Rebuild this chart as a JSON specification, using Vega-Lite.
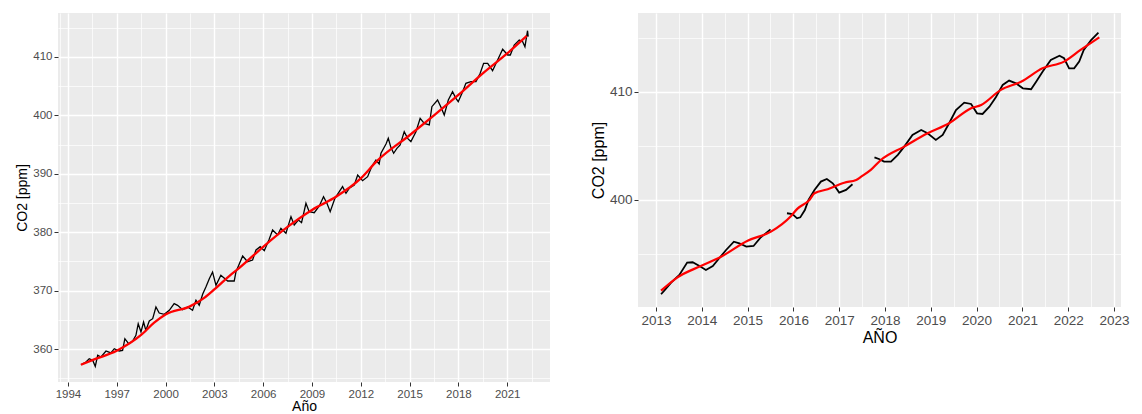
{
  "$schema": "https://vega.github.io/schema/vega-lite/v6.json",
  "padding": {"left": 15, "top": 13, "right": 0, "bottom": 0},
  "background": "#FFFFFF",
  "datasets": {
    "left_obs": [
      {"year": 1994.80, "co2": 357.31}, {"year": 1995.11, "co2": 357.77}, {"year": 1995.31, "co2": 358.34},
      {"year": 1995.52, "co2": 358.06}, {"year": 1995.68, "co2": 357.03}, {"year": 1995.83, "co2": 358.92},
      {"year": 1996.03, "co2": 358.63}, {"year": 1996.34, "co2": 359.66}, {"year": 1996.64, "co2": 359.32},
      {"year": 1996.85, "co2": 360.05}, {"year": 1997.15, "co2": 359.66}, {"year": 1997.36, "co2": 359.77},
      {"year": 1997.50, "co2": 361.76}, {"year": 1997.73, "co2": 360.91}, {"year": 1997.98, "co2": 361.37},
      {"year": 1998.18, "co2": 362.34}, {"year": 1998.32, "co2": 364.33}, {"year": 1998.49, "co2": 362.91},
      {"year": 1998.65, "co2": 364.62}, {"year": 1998.79, "co2": 363.19}, {"year": 1999.00, "co2": 364.79},
      {"year": 1999.21, "co2": 365.19}, {"year": 1999.41, "co2": 367.19}, {"year": 1999.61, "co2": 366.16},
      {"year": 1999.92, "co2": 365.93}, {"year": 2000.23, "co2": 366.62}, {"year": 2000.53, "co2": 367.76},
      {"year": 2000.74, "co2": 367.48}, {"year": 2001.05, "co2": 366.73}, {"year": 2001.36, "co2": 367.19},
      {"year": 2001.66, "co2": 366.62}, {"year": 2001.87, "co2": 368.34}, {"year": 2002.07, "co2": 367.48},
      {"year": 2002.28, "co2": 369.37}, {"year": 2002.48, "co2": 370.62}, {"year": 2002.69, "co2": 372.04},
      {"year": 2002.89, "co2": 373.18}, {"year": 2003.10, "co2": 370.90}, {"year": 2003.40, "co2": 372.62},
      {"year": 2003.82, "co2": 371.64}, {"year": 2004.22, "co2": 371.64}, {"year": 2004.33, "co2": 373.24},
      {"year": 2004.74, "co2": 375.92}, {"year": 2005.04, "co2": 374.95}, {"year": 2005.35, "co2": 375.24},
      {"year": 2005.56, "co2": 376.95}, {"year": 2005.82, "co2": 377.52}, {"year": 2006.07, "co2": 376.84},
      {"year": 2006.37, "co2": 378.78}, {"year": 2006.58, "co2": 380.38}, {"year": 2006.89, "co2": 379.52},
      {"year": 2007.09, "co2": 380.66}, {"year": 2007.40, "co2": 379.81}, {"year": 2007.71, "co2": 382.66},
      {"year": 2007.91, "co2": 381.23}, {"year": 2008.16, "co2": 382.09}, {"year": 2008.36, "co2": 381.63},
      {"year": 2008.63, "co2": 384.95}, {"year": 2008.83, "co2": 383.51}, {"year": 2009.14, "co2": 383.34},
      {"year": 2009.45, "co2": 384.49}, {"year": 2009.71, "co2": 386.08}, {"year": 2009.92, "co2": 384.95},
      {"year": 2010.12, "co2": 383.51}, {"year": 2010.41, "co2": 385.80}, {"year": 2010.68, "co2": 386.94},
      {"year": 2010.88, "co2": 387.80}, {"year": 2011.09, "co2": 386.66}, {"year": 2011.29, "co2": 387.52},
      {"year": 2011.60, "co2": 388.08}, {"year": 2011.81, "co2": 389.79}, {"year": 2012.11, "co2": 388.82},
      {"year": 2012.42, "co2": 389.50}, {"year": 2012.67, "co2": 391.22}, {"year": 2012.93, "co2": 392.36},
      {"year": 2013.13, "co2": 391.68}, {"year": 2013.24, "co2": 393.51}, {"year": 2013.55, "co2": 395.10},
      {"year": 2013.69, "co2": 396.07}, {"year": 2013.85, "co2": 394.53}, {"year": 2014.02, "co2": 393.51},
      {"year": 2014.22, "co2": 394.36}, {"year": 2014.42, "co2": 394.93}, {"year": 2014.67, "co2": 397.21},
      {"year": 2014.88, "co2": 396.07}, {"year": 2015.08, "co2": 395.50}, {"year": 2015.39, "co2": 397.21},
      {"year": 2015.65, "co2": 399.50}, {"year": 2015.90, "co2": 398.64}, {"year": 2016.21, "co2": 398.36},
      {"year": 2016.37, "co2": 401.49}, {"year": 2016.72, "co2": 402.64}, {"year": 2016.93, "co2": 401.38},
      {"year": 2017.13, "co2": 400.07}, {"year": 2017.38, "co2": 402.64}, {"year": 2017.64, "co2": 404.06},
      {"year": 2017.85, "co2": 402.92}, {"year": 2017.99, "co2": 402.35}, {"year": 2018.26, "co2": 404.06},
      {"year": 2018.46, "co2": 405.49}, {"year": 2018.77, "co2": 405.78}, {"year": 2019.08, "co2": 405.78},
      {"year": 2019.34, "co2": 407.21}, {"year": 2019.55, "co2": 408.92}, {"year": 2019.80, "co2": 408.92},
      {"year": 2020.10, "co2": 407.65}, {"year": 2020.41, "co2": 409.49}, {"year": 2020.72, "co2": 411.32},
      {"year": 2021.03, "co2": 410.34}, {"year": 2021.19, "co2": 410.34}, {"year": 2021.43, "co2": 412.05},
      {"year": 2021.74, "co2": 412.91}, {"year": 2021.95, "co2": 412.62}, {"year": 2022.09, "co2": 411.76},
      {"year": 2022.25, "co2": 414.50}, {"year": 2022.29, "co2": 413.48}
    ],
    "left_fit": [
      {"year": 1994.8, "co2": 357.3}, {"year": 1995.5, "co2": 358.1}, {"year": 1997.0, "co2": 359.7},
      {"year": 1998.5, "co2": 362.4}, {"year": 1999.3, "co2": 364.5}, {"year": 2000.0, "co2": 365.9},
      {"year": 2001.5, "co2": 367.3}, {"year": 2002.4, "co2": 368.8}, {"year": 2003.0, "co2": 370.2},
      {"year": 2004.0, "co2": 372.7}, {"year": 2004.5, "co2": 373.8}, {"year": 2006.0, "co2": 377.5},
      {"year": 2007.5, "co2": 380.9}, {"year": 2009.0, "co2": 383.8}, {"year": 2010.5, "co2": 386.1},
      {"year": 2012.0, "co2": 389.2}, {"year": 2013.0, "co2": 392.2}, {"year": 2015.0, "co2": 396.6},
      {"year": 2016.5, "co2": 400.0}, {"year": 2018.0, "co2": 403.5}, {"year": 2019.5, "co2": 407.2},
      {"year": 2021.0, "co2": 410.6}, {"year": 2022.2, "co2": 413.6}
    ],
    "right_obs": [
      {"seg": 1, "year": 2013.11, "co2": 391.27}, {"seg": 1, "year": 2013.18, "co2": 391.60},
      {"seg": 1, "year": 2013.33, "co2": 392.35}, {"seg": 1, "year": 2013.51, "co2": 393.06},
      {"seg": 1, "year": 2013.68, "co2": 394.20}, {"seg": 1, "year": 2013.80, "co2": 394.23},
      {"seg": 1, "year": 2013.95, "co2": 393.89}, {"seg": 1, "year": 2014.09, "co2": 393.52},
      {"seg": 1, "year": 2014.24, "co2": 393.89}, {"seg": 1, "year": 2014.38, "co2": 394.60},
      {"seg": 1, "year": 2014.53, "co2": 395.37}, {"seg": 1, "year": 2014.70, "co2": 396.14},
      {"seg": 1, "year": 2014.82, "co2": 395.99}, {"seg": 1, "year": 2014.97, "co2": 395.68},
      {"seg": 1, "year": 2015.13, "co2": 395.74}, {"seg": 1, "year": 2015.29, "co2": 396.55},
      {"seg": 1, "year": 2015.44, "co2": 397.07}, {"seg": 1, "year": 2015.50, "co2": 397.28},
      {"seg": 2, "year": 2015.86, "co2": 398.77}, {"seg": 2, "year": 2015.98, "co2": 398.70},
      {"seg": 2, "year": 2016.08, "co2": 398.30}, {"seg": 2, "year": 2016.15, "co2": 398.39},
      {"seg": 2, "year": 2016.25, "co2": 399.07}, {"seg": 2, "year": 2016.33, "co2": 400.00},
      {"seg": 2, "year": 2016.46, "co2": 400.93}, {"seg": 2, "year": 2016.60, "co2": 401.70},
      {"seg": 2, "year": 2016.73, "co2": 401.94}, {"seg": 2, "year": 2016.86, "co2": 401.54},
      {"seg": 2, "year": 2017.00, "co2": 400.68}, {"seg": 2, "year": 2017.15, "co2": 400.93},
      {"seg": 2, "year": 2017.29, "co2": 401.45},
      {"seg": 3, "year": 2017.77, "co2": 403.95}, {"seg": 3, "year": 2017.88, "co2": 403.77},
      {"seg": 3, "year": 2017.98, "co2": 403.55}, {"seg": 3, "year": 2018.13, "co2": 403.55},
      {"seg": 3, "year": 2018.28, "co2": 404.17}, {"seg": 3, "year": 2018.42, "co2": 404.94},
      {"seg": 3, "year": 2018.60, "co2": 406.02}, {"seg": 3, "year": 2018.79, "co2": 406.48},
      {"seg": 3, "year": 2018.93, "co2": 406.17}, {"seg": 3, "year": 2019.11, "co2": 405.56},
      {"seg": 3, "year": 2019.26, "co2": 406.02}, {"seg": 3, "year": 2019.40, "co2": 407.10},
      {"seg": 3, "year": 2019.55, "co2": 408.33}, {"seg": 3, "year": 2019.73, "co2": 409.01},
      {"seg": 3, "year": 2019.88, "co2": 408.89}, {"seg": 3, "year": 2020.01, "co2": 408.02},
      {"seg": 3, "year": 2020.13, "co2": 407.96}, {"seg": 3, "year": 2020.28, "co2": 408.64},
      {"seg": 3, "year": 2020.42, "co2": 409.51}, {"seg": 3, "year": 2020.57, "co2": 410.65},
      {"seg": 3, "year": 2020.71, "co2": 411.05}, {"seg": 3, "year": 2020.86, "co2": 410.80},
      {"seg": 3, "year": 2021.01, "co2": 410.34}, {"seg": 3, "year": 2021.19, "co2": 410.25},
      {"seg": 3, "year": 2021.30, "co2": 410.95}, {"seg": 3, "year": 2021.44, "co2": 411.88},
      {"seg": 3, "year": 2021.62, "co2": 412.96}, {"seg": 3, "year": 2021.81, "co2": 413.36},
      {"seg": 3, "year": 2021.91, "co2": 413.12}, {"seg": 3, "year": 2022.02, "co2": 412.19},
      {"seg": 3, "year": 2022.13, "co2": 412.19}, {"seg": 3, "year": 2022.24, "co2": 412.81},
      {"seg": 3, "year": 2022.34, "co2": 413.89}, {"seg": 3, "year": 2022.50, "co2": 414.81},
      {"seg": 3, "year": 2022.66, "co2": 415.49}
    ],
    "right_fit": [
      {"year": 2013.11, "co2": 391.60}, {"year": 2013.47, "co2": 392.84}, {"year": 2013.98, "co2": 393.89},
      {"year": 2014.42, "co2": 394.75}, {"year": 2015.00, "co2": 396.23}, {"year": 2015.51, "co2": 397.07},
      {"year": 2015.95, "co2": 398.52}, {"year": 2016.09, "co2": 399.20}, {"year": 2016.35, "co2": 400.00},
      {"year": 2016.46, "co2": 400.62}, {"year": 2016.75, "co2": 400.99}, {"year": 2017.11, "co2": 401.60},
      {"year": 2017.37, "co2": 401.85}, {"year": 2017.48, "co2": 402.16}, {"year": 2017.69, "co2": 402.78},
      {"year": 2017.91, "co2": 403.70}, {"year": 2018.42, "co2": 404.94}, {"year": 2018.93, "co2": 406.17},
      {"year": 2019.40, "co2": 407.10}, {"year": 2019.88, "co2": 408.49}, {"year": 2020.10, "co2": 408.80},
      {"year": 2020.53, "co2": 410.19}, {"year": 2020.97, "co2": 410.95}, {"year": 2021.44, "co2": 412.19},
      {"year": 2021.91, "co2": 412.81}, {"year": 2022.27, "co2": 413.89}, {"year": 2022.68, "co2": 415.06}
    ]
  },
  "hconcat": [
    {
      "width": 492,
      "height": 369,
      "encoding": {
        "x": {
          "field": "year", "type": "quantitative",
          "scale": {"domain": [1993.39, 2023.63], "nice": false, "zero": false},
          "axis": {
            "title": "Año",
            "values": [1993.5, 1994, 1995.5, 1997, 1998.5, 2000, 2001.5, 2003, 2004.5, 2006, 2007.5, 2009, 2010.5, 2012, 2013.5, 2015, 2016.5, 2018, 2019.5, 2021, 2022.5],
            "labelExpr": "datum.value % 1 != 0 ? '' : format(datum.value, 'd')",
            "gridWidth": {"condition": {"test": "datum.value % 1 != 0", "value": 0.7}, "value": 1.4},
            "tickOpacity": {"condition": {"test": "datum.value % 1 != 0", "value": 0}, "value": 1},
            "labelFontSize": 11.5, "titleFontSize": 14, "labelPadding": 2, "titlePadding": 0
          }
        },
        "y": {
          "field": "co2", "type": "quantitative",
          "scale": {"domain": [354.35, 417.53], "nice": false, "zero": false},
          "axis": {
            "title": "CO2 [ppm]",
            "values": [355, 360, 365, 370, 375, 380, 385, 390, 395, 400, 405, 410, 415],
            "labelExpr": "datum.value % 10 != 0 ? '' : format(datum.value, 'd')",
            "gridWidth": {"condition": {"test": "datum.value % 10 != 0", "value": 0.7}, "value": 1.4},
            "tickOpacity": {"condition": {"test": "datum.value % 10 != 0", "value": 0}, "value": 1},
            "labelFontSize": 11.5, "titleFontSize": 14, "labelPadding": 2, "titlePadding": 3
          }
        }
      },
      "layer": [
        {"data": {"name": "left_obs"}, "mark": {"type": "line", "color": "#000000", "strokeWidth": 1.3, "clip": true}},
        {"data": {"name": "left_fit"}, "mark": {"type": "line", "color": "#FF0000", "strokeWidth": 2.3, "interpolate": "monotone", "clip": true}}
      ]
    },
    {
      "width": 483,
      "height": 294,
      "encoding": {
        "x": {
          "field": "year", "type": "quantitative",
          "scale": {"domain": [2012.607, 2023.153], "nice": false, "zero": false},
          "axis": {
            "title": "AÑO",
            "values": [2013, 2013.5, 2014, 2014.5, 2015, 2015.5, 2016, 2016.5, 2017, 2017.5, 2018, 2018.5, 2019, 2019.5, 2020, 2020.5, 2021, 2021.5, 2022, 2022.5, 2023],
            "labelExpr": "datum.value % 1 != 0 ? '' : format(datum.value, 'd')",
            "gridWidth": {"condition": {"test": "datum.value % 1 != 0", "value": 0.7}, "value": 1.4},
            "tickOpacity": {"condition": {"test": "datum.value % 1 != 0", "value": 0}, "value": 1},
            "labelFontSize": 13.5, "titleFontSize": 16, "labelPadding": 2, "titlePadding": 3
          }
        },
        "y": {
          "field": "co2", "type": "quantitative",
          "scale": {"domain": [390.09, 417.31], "nice": false, "zero": false},
          "axis": {
            "title": "CO2 [ppm]",
            "values": [395, 400, 405, 410, 415],
            "labelExpr": "datum.value % 10 != 0 ? '' : format(datum.value, 'd')",
            "gridWidth": {"condition": {"test": "datum.value % 10 != 0", "value": 0.7}, "value": 1.4},
            "tickOpacity": {"condition": {"test": "datum.value % 10 != 0", "value": 0}, "value": 1},
            "labelFontSize": 13.5, "titleFontSize": 16, "labelPadding": 2, "titlePadding": 3
          }
        }
      },
      "layer": [
        {"data": {"name": "right_obs"}, "mark": {"type": "line", "color": "#000000", "strokeWidth": 1.8, "clip": true}, "encoding": {"detail": {"field": "seg", "type": "nominal"}}},
        {"data": {"name": "right_fit"}, "mark": {"type": "line", "color": "#FF0000", "strokeWidth": 2.2, "interpolate": "monotone", "clip": true}}
      ]
    }
  ],
  "spacing": 40,
  "config": {
    "font": "Liberation Sans",
    "view": {"fill": "#EBEBEB", "stroke": null},
    "axis": {
      "domain": false,
      "grid": true,
      "gridColor": "#FFFFFF",
      "tickColor": "#333333",
      "tickSize": 4,
      "tickWidth": 1,
      "labelColor": "#4D4D4D",
      "labelFont": "Liberation Sans",
      "titleFont": "Liberation Sans",
      "titleColor": "#000000",
      "titleFontWeight": "normal",
      "labelOverlap": false
    }
  }
}
